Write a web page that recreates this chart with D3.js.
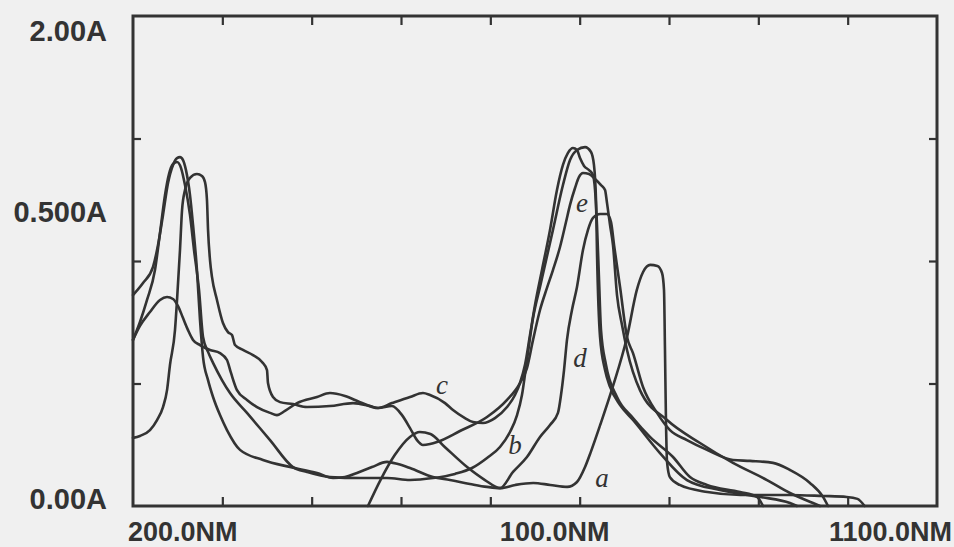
<!DOCTYPE html>
<html><head><meta charset="utf-8">
<script src="https://cdn.jsdelivr.net/npm/d3@7"></script>
<style>html,body{margin:0;padding:0;background:#f0f0f0;} svg{display:block}</style>
</head><body><svg id="chart" width="954" height="547"></svg>
<script>
// ---- data (wavelength in nm, absorbance in A) ----
const wlA  = [463,477,493,510,521,533,549,574,594,611,628,648,667,686,697,706,712,723,737,753,764,771,779,787,792.2,794.4,795.5,796.6,797.8,801,812,843,880,935,972,999,1011,1019];
const absA = [0,0.106,0.208,0.282,0.302,0.294,0.241,0.159,0.106,0.073,0.086,0.094,0.086,0.078,0.098,0.159,0.216,0.331,0.486,0.690,0.882,0.955,0.984,0.980,0.951,0.882,0.637,0.351,0.180,0.118,0.086,0.057,0.045,0.045,0.041,0.037,0.029,0];

const wlB  = [200,207.8,215.7,224.6,230.2,235.8,240.3,244.8,249.3,253.7,258.2,263.8,268.3,273.9,278.4,284,289.6,299.6,308.6,327.6,353.4,379.1,394.8,420.5,454.1,484.3,510.1,535.8,560.4,579.5,596.3,610.8,622,629.9,635.4,641,647.8,655.6,670.1,681.3,689.2,697,706,712.7,716,718.3,719.4,722.8,728.4,734,745.2,759.7,789.9,820.1,857.1,901.9,935.4,943.3];
const absB = [0.678,0.751,0.841,0.963,1.114,1.269,1.355,1.396,1.404,1.380,1.310,1.188,1.045,0.882,0.690,0.629,0.584,0.514,0.461,0.380,0.269,0.159,0.139,0.118,0.114,0.114,0.106,0.114,0.131,0.155,0.196,0.241,0.302,0.371,0.453,0.596,0.767,0.894,1.127,1.310,1.412,1.453,1.465,1.445,1.392,1.249,1.033,0.690,0.555,0.486,0.412,0.351,0.216,0.106,0.065,0.037,0.012,0];

const wlC  = [200,207.8,219,226.9,233.6,238.1,241.4,247,249.3,252.6,254.9,258.2,263.8,271.6,277.2,280.6,282.8,284,286.2,288.4,294,300.7,306.3,310.8,314.2,323.1,334.3,344.4,350,351.1,356.7,364.6,379.1,394.8,420.5,446.3,465.3,474.3,489.9,510.1,524.6,532.5,549.3,558.2,571.6,580.6,591.8,605.2,618.7,627.6,633.2,638.8,644.4,650,657.8,666.8,674.6,681.3,686.9,692.5,697,700.4,704.9,710.5,714.9,717.2,719.4,721.7,723.9,729.5,741.8,759.7,778.7,804.5,823.5,842.5,879.5,898.5,905.2];
const absC = [0.278,0.286,0.310,0.351,0.404,0.473,0.576,0.718,0.841,1.045,1.208,1.290,1.339,1.355,1.347,1.322,1.249,1.127,1.004,0.935,0.841,0.747,0.710,0.698,0.657,0.637,0.616,0.588,0.555,0.502,0.445,0.424,0.416,0.404,0.408,0.420,0.408,0.400,0.420,0.445,0.461,0.453,0.420,0.392,0.359,0.343,0.339,0.359,0.404,0.453,0.502,0.576,0.698,0.820,0.963,1.127,1.290,1.392,1.441,1.461,1.453,1.420,1.388,1.371,1.351,1.290,1.147,0.922,0.718,0.576,0.445,0.359,0.282,0.200,0.118,0.086,0.057,0.037,0];

const wlD  = [200,211.2,222.4,228,233.6,239.2,244.8,249.3,252.6,256,259.3,263.8,267.2,271.6,275,278.4,284,289.6,297.4,305.2,319.8,345.5,375.7,406,423.9,437.3,450.7,467.5,484.3,496.6,510.1,535.8,554.8,577.2,596.3,610.8,625.4,641,655.6,666.8,675.7,679.1,682.5,685.8,691.4,697,703.7,709.3,714.9,722.8,730.6,735.1,738.5,745.2,753,759.7,770.9,786.6,801.1,820.1,842.5,871.6,890.7,916.4,935.4,957.8,972.4,978];
const absD = [0.861,0.910,0.976,1.065,1.188,1.318,1.392,1.420,1.424,1.412,1.371,1.269,1.147,0.963,0.759,0.608,0.514,0.445,0.371,0.310,0.229,0.188,0.159,0.135,0.114,0.118,0.135,0.159,0.180,0.171,0.155,0.118,0.106,0.090,0.078,0.073,0.139,0.200,0.282,0.331,0.380,0.453,0.555,0.678,0.800,0.894,1.045,1.127,1.176,1.192,1.192,1.159,1.065,0.894,0.690,0.624,0.486,0.380,0.310,0.269,0.229,0.188,0.184,0.176,0.147,0.094,0.037,0];

const wlE  = [200,207.8,219,230.2,238.1,244.8,250.4,256,261.6,267.2,275,286.2,297.4,305.2,309.7,316.4,327.6,338.8,353.4,361.2,370.1,383.6,406,420.5,437.3,454.1,474.3,489.9,501.1,510.1,517.9,524.6,532.5,540.3,566,596.3,618.7,633.2,641,647.8,655.6,663.4,670.1,678,684.7,689.2,694.8,699.3,703.7,710.5,717.2,723.9,728.4,730.6,734,737.3,741.8,747.4,753,767.5,797.8,834.7,871.6,909.7,935.4,961.2,969];
const absE = [0.678,0.735,0.792,0.841,0.853,0.845,0.816,0.767,0.718,0.678,0.657,0.637,0.624,0.596,0.543,0.473,0.433,0.404,0.380,0.371,0.388,0.420,0.445,0.461,0.449,0.424,0.400,0.408,0.371,0.318,0.269,0.249,0.253,0.261,0.306,0.363,0.433,0.502,0.563,0.678,0.800,0.890,0.963,1.057,1.159,1.229,1.298,1.343,1.359,1.355,1.335,1.310,1.290,1.237,1.147,1.065,0.861,0.739,0.637,0.473,0.351,0.257,0.176,0.106,0.053,0.012,0];

const curveNames   = ["a","b","c","d","e"];
const labelWl      = [725, 627.6, 545.9, 700.4, 702.6];
const labelAbs     = [0.114, 0.249, 0.494, 0.604, 1.237];

const xTickValues  = [300,400,500,600,700,800,900,1000];
const yTickValues  = [0.5,1.0,1.5];
const yTickLabels  = ["2.00A","0.500A","0.00A"];
const yLabelAbs    = [1.94,1.20,0.03];
const xTickLabels  = ["200.0NM","100.0NM","1100.0NM"];
const xLabelWl     = [200,672,1100];

// ---- layout ----
const svg = d3.select("#chart");
const W = 954, H = 547;
const mLeft = 133, mRight = 937, mTop = 16, mBottom = 506;
const ink = "#333333";

svg.append("rect").attr("width", W).attr("height", H).attr("fill", "#f0f0f0");

const x = d3.scaleLinear().domain([200, 1100]).range([mLeft, mRight]);
const y = d3.scaleLinear().domain([0, 2]).range([mBottom, mTop]);

function styleAxis(g){
  g.select(".domain").remove();
  g.selectAll(".tick line").attr("stroke", ink).attr("stroke-width", 2.2);
  g.selectAll(".tick text").remove();
}
svg.append("g").attr("transform", `translate(0,${mBottom})`)
  .call(d3.axisBottom(x).tickValues(xTickValues).tickSize(-9)).call(styleAxis);
svg.append("g").attr("transform", `translate(0,${mTop})`)
  .call(d3.axisTop(x).tickValues(xTickValues).tickSize(-9)).call(styleAxis);
svg.append("g").attr("transform", `translate(${mLeft},0)`)
  .call(d3.axisLeft(y).tickValues(yTickValues).tickSize(-8)).call(styleAxis);
svg.append("g").attr("transform", `translate(${mRight},0)`)
  .call(d3.axisRight(y).tickValues(yTickValues).tickSize(-8)).call(styleAxis);

const series = [
  {name:"a", wl: wlA, ab: absA},
  {name:"b", wl: wlB, ab: absB},
  {name:"c", wl: wlC, ab: absC},
  {name:"d", wl: wlD, ab: absD},
  {name:"e", wl: wlE, ab: absE}
];
const line = d3.line().x(d => x(d[0])).y(d => y(d[1])).curve(d3.curveMonotoneX);
const plot = svg.append("g");
series.forEach(s => {
  const pts = s.wl.map((w, i) => [w, s.ab[i]]);
  plot.append("path").datum(pts).attr("d", line)
    .attr("fill", "none").attr("stroke", ink).attr("stroke-width", 2.6)
    .attr("stroke-linejoin", "round").attr("stroke-linecap", "round");
});

svg.append("rect").attr("x", mLeft).attr("y", mTop).attr("width", mRight-mLeft).attr("height", mBottom-mTop)
  .attr("fill", "none").attr("stroke", ink).attr("stroke-width", 3);

svg.append("g").selectAll("text").data(curveNames).join("text")
  .attr("x", (d,i) => x(labelWl[i])).attr("y", (d,i) => y(labelAbs[i]))
  .attr("text-anchor", "middle").attr("dominant-baseline", "central")
  .attr("font-family", "'Liberation Serif', 'DejaVu Serif', serif")
  .attr("font-style", "italic").attr("font-size", 27).attr("fill", ink)
  .text(d => d);

const labelFont = "'Liberation Sans', Arial, sans-serif";
svg.append("g").selectAll("text").data(yTickLabels).join("text")
  .attr("x", mLeft - 26).attr("y", (d,i) => y(yLabelAbs[i]))
  .attr("text-anchor", "end").attr("dominant-baseline", "central")
  .attr("font-family", labelFont).attr("font-weight", "bold").attr("font-size", 29)
  .attr("fill", ink).text(d => d);

const xAnchors = ["start","middle","end"];
const xShift = [-5, 0, 15];
svg.append("g").selectAll("text").data(xTickLabels).join("text")
  .attr("x", (d,i) => x(xLabelWl[i]) + xShift[i]).attr("y", 541)
  .attr("text-anchor", (d,i) => xAnchors[i])
  .attr("font-family", labelFont).attr("font-weight", "bold").attr("font-size", 27)
  .attr("fill", ink).text(d => d);
</script>
</body></html>
